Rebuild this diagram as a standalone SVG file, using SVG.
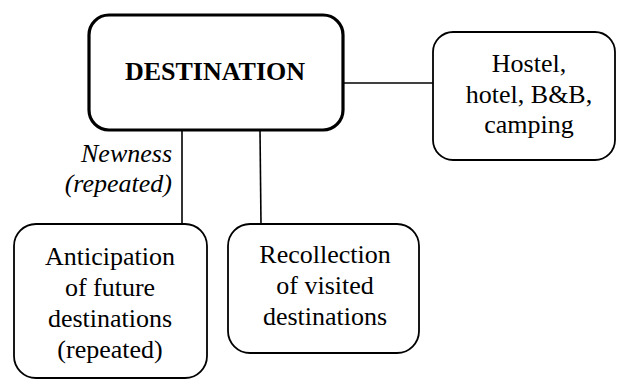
<svg xmlns="http://www.w3.org/2000/svg" width="617" height="379" viewBox="0 0 617 379">
<style>
text{font-family:"Liberation Serif","Times New Roman",serif;font-size:26px;fill:#000;text-anchor:middle}
.it{font-style:italic;text-anchor:end}
.box{fill:#fff;stroke:#000;stroke-width:1.8}
.main{fill:#fff;stroke:#000;stroke-width:3.2}
.edge{stroke:#000;stroke-width:1.6;fill:none}
</style>
<rect width="617" height="379" fill="#fff"/>
<g id="connectors">
<line class="edge" x1="182" y1="130" x2="182" y2="225"/>
<line class="edge" x1="260" y1="130" x2="261" y2="225"/>
<line class="edge" x1="343" y1="83" x2="433" y2="83"/>
<text class="it" x="172" y="162">Newness</text>
<text class="it" x="172" y="192">(repeated)</text>
</g>
<g id="destination">
<rect class="main" x="89" y="15" width="254" height="115" rx="20"/>
<text x="215" y="80" font-weight="bold">DESTINATION</text>
</g>
<g id="accommodation">
<rect class="box" x="433" y="32" width="182" height="128" rx="20"/>
<text x="529" y="72">Hostel,</text>
<text x="529" y="103">hotel, B&amp;B,</text>
<text x="529" y="133">camping</text>
</g>
<g id="anticipation">
<rect class="box" x="14" y="224" width="193" height="154" rx="22"/>
<text x="110" y="265">Anticipation</text>
<text x="110" y="296">of future</text>
<text x="110" y="327">destinations</text>
<text x="110" y="358">(repeated)</text>
</g>
<g id="recollection">
<rect class="box" x="228" y="224" width="191" height="129" rx="22"/>
<text x="325" y="263">Recollection</text>
<text x="325" y="294">of visited</text>
<text x="325" y="325">destinations</text>
</g>
</svg>
